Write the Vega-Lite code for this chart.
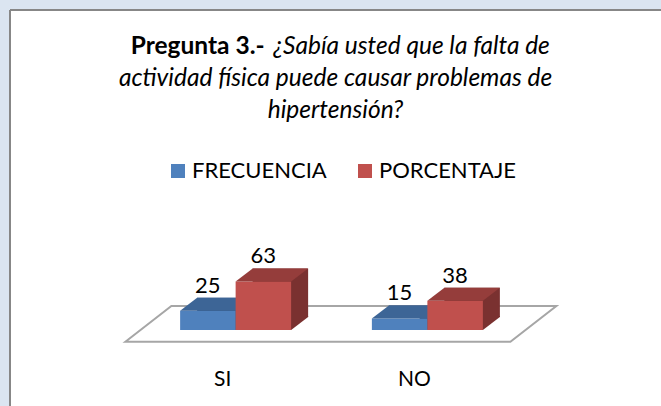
{
  "$schema": "https://vega.github.io/schema/vega-lite/v6.json",
  "width": 651,
  "height": 396,
  "autosize": "none",
  "padding": {"left": 10, "top": 10, "right": 0, "bottom": 0},
  "background": "#dbe5f1",
  "datasets": {
    "barras": [
      {"categoria": "SI", "serie": "FRECUENCIA", "valor": 25},
      {"categoria": "SI", "serie": "PORCENTAJE", "valor": 63},
      {"categoria": "NO", "serie": "FRECUENCIA", "valor": 15},
      {"categoria": "NO", "serie": "PORCENTAJE", "valor": 38}
    ]
  },
  "data": {"name": "barras"},
  "title": {
    "text": ["\u200b\u2003\u2003\u2003\u2003\u2003\u2003\u2003\u2003\u2003¿Sabía usted que la falta de", "actividad física puede causar problemas de", "hipertensión?"],
    "subtitle": "Pregunta 3.-\u2003\u2003\u2003\u2003\u2003\u2003\u2003\u2003\u2003\u2003\u2003\u2003\u2003\u2003\u2003\u200b",
    "frame": "group",
    "anchor": "middle",
    "offset": -113.5,
    "font": "Lato",
    "fontSize": 24.5,
    "fontStyle": "italic",
    "fontWeight": "normal",
    "color": "black",
    "lineHeight": 32,
    "subtitleFont": "Lato",
    "subtitleFontSize": 24.5,
    "subtitleFontWeight": "bold",
    "subtitleFontStyle": "normal",
    "subtitleColor": "black",
    "subtitlePadding": -88.5
  },
  "encoding": {
    "x": {
      "field": "categoria",
      "type": "nominal",
      "sort": ["SI", "NO"],
      "scale": {"type": "band", "domain": ["SI", "NO"], "range": [129.75, 513.25], "paddingInner": 0, "paddingOuter": 0},
      "axis": {
        "title": null,
        "domain": false,
        "ticks": false,
        "tickSize": 0,
        "grid": false,
        "labelPadding": 0,
        "offset": -27,
        "labelOffset": -13,
        "labelAngle": 0,
        "labelFont": "Lato",
        "labelFontSize": 21,
        "labelColor": "black",
        "labelBaseline": "middle"
      }
    },
    "y": {
      "field": "valor",
      "type": "quantitative",
      "scale": {"domain": [0, 100], "range": [320, 243], "nice": false, "zero": true},
      "axis": null
    }
  },
  "layer": [
    {
      "transform": [{"filter": "datum.categoria === 'SI' && datum.serie === 'FRECUENCIA'"}],
      "mark": {"type": "point", "shape": "M-110.25,11.7L-64.25,-24L320.75,-24L274.75,11.7Z", "size": 4, "filled": false, "color": "#a6a6a6", "stroke": "#a6a6a6", "strokeWidth": 2, "opacity": 1},
      "encoding": {
        "y": {"datum": 0, "type": "quantitative"}
      }
    },
    {
      "transform": [{"filter": "datum.serie === 'FRECUENCIA'"}],
      "layer": [
        {"mark": {"type": "bar", "width": 55.5, "xOffset": -10.75, "yOffset": -13, "y2Offset": -13, "color": "#345583"}},
        {
          "mark": {"type": "point", "shape": "M20,0L27.75,0L44.75,-13L44.75,-14L20,-14Z", "size": 4, "filled": true, "color": "#345583", "strokeWidth": 0, "opacity": 1, "xOffset": -27.75},
          "encoding": {"y": {"datum": 0, "type": "quantitative"}}
        },
        {
          "mark": {"type": "bar", "width": 55.5, "xOffset": -27.75},
          "encoding": {
            "color": {
              "field": "serie",
              "type": "nominal",
              "scale": {"domain": ["FRECUENCIA", "PORCENTAJE"], "range": ["#4f81bd", "#c0504d"]},
              "legend": {
                "orient": "none",
                "legendX": 157,
                "legendY": 150,
                "direction": "horizontal",
                "title": null,
                "symbolType": "square",
                "symbolSize": 196,
                "symbolStrokeWidth": 0,
                "symbolOpacity": 1,
                "labelFont": "Lato",
                "labelFontSize": 22,
                "labelColor": "black",
                "labelOffset": 3,
                "columnPadding": 27,
                "padding": 0,
                "labelLimit": 0
              }
            }
          }
        },
        {"mark": {"type": "point", "shape": "M-27.75,0L27.75,0L44.75,-13L-10.75,-13Z", "size": 4, "filled": true, "color": "#3d6596", "strokeWidth": 0, "opacity": 1, "xOffset": -27.75}},
        {
          "mark": {"type": "text", "xOffset": -27.75, "yOffset": -25, "font": "Lato", "fontSize": 22, "baseline": "middle", "align": "center", "color": "black"},
          "encoding": {"text": {"field": "valor", "type": "quantitative"}}
        }
      ]
    },
    {
      "transform": [{"filter": "datum.serie === 'PORCENTAJE'"}],
      "layer": [
        {"mark": {"type": "bar", "width": 55.5, "xOffset": 44.75, "yOffset": -13, "y2Offset": -13, "color": "#7a3130"}},
        {
          "mark": {"type": "point", "shape": "M20,0L27.75,0L44.75,-13L44.75,-14L20,-14Z", "size": 4, "filled": true, "color": "#7a3130", "strokeWidth": 0, "opacity": 1, "xOffset": 27.75},
          "encoding": {"y": {"datum": 0, "type": "quantitative"}}
        },
        {
          "mark": {"type": "bar", "width": 55.5, "xOffset": 27.75},
          "encoding": {
            "color": {"field": "serie", "type": "nominal"}
          }
        },
        {"mark": {"type": "point", "shape": "M-27.75,0L27.75,0L44.75,-13L-10.75,-13Z", "size": 4, "filled": true, "color": "#953d3b", "strokeWidth": 0, "opacity": 1, "xOffset": 27.75}},
        {
          "mark": {"type": "text", "xOffset": 27.75, "yOffset": -25, "font": "Lato", "fontSize": 22, "baseline": "middle", "align": "center", "color": "black"},
          "encoding": {"text": {"field": "valor", "type": "quantitative"}}
        }
      ]
    }
  ],
  "config": {
    "view": {"fill": "white", "stroke": "#878787", "strokeWidth": 2, "strokeDash": [651, 1047, 396, 0]}
  }
}
